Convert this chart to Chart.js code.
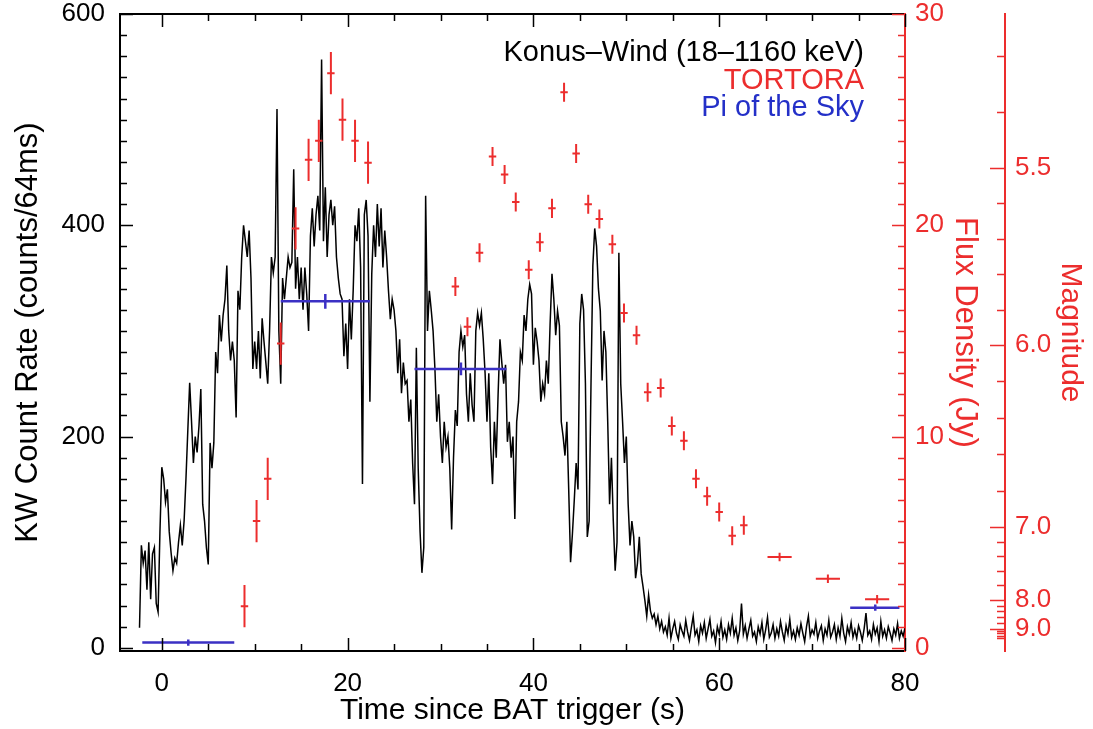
<!DOCTYPE html>
<html>
<head>
<meta charset="utf-8">
<title>Konus-Wind, TORTORA and Pi of the Sky light curves</title>
<script src="https://cdn.jsdelivr.net/npm/chart.js@4.4.1/dist/chart.umd.min.js"></script>
<style>
  html, body { margin: 0; padding: 0; background: #fff; }
  #wrap { width: 1093px; height: 729px; }
</style>
</head>
<body>
<div id="wrap"><canvas id="lightCurve" width="1093" height="729"></canvas></div>
<script>
const kwStart = -2.4;
const kwStep = 0.2;
const kwCounts = [
  19, 97, 80,
  92, 55, 100, 46, 89,
  95, 42, 34, 110, 171,
  160, 138, 150, 110, 90,
  73, 85, 80, 100, 116,
  97, 120, 160, 206, 251,
  214, 175, 200, 185, 210,
  245, 136, 120, 95, 79,
  194, 170, 194, 280, 260,
  315, 290, 315, 330, 362,
  300, 272, 290, 272, 218,
  338, 320, 370, 400, 385,
  370, 395, 350, 264, 290,
  264, 300, 255, 312, 290,
  270, 250, 300, 370, 355,
  370, 510, 300, 250, 350,
  330, 350, 370, 360, 365,
  453, 340, 370, 330, 360,
  320, 360, 335, 300, 390,
  416, 380, 410, 428, 395,
  557, 385, 436, 370, 410,
  424, 400, 418, 370, 350,
  335, 330, 276, 307, 264,
  330, 292, 338, 400, 385,
  416, 360, 155, 410, 424,
  390, 233, 354, 400, 370,
  420, 380, 416, 360, 395,
  370, 338, 311, 330, 320,
  300, 260, 292, 241, 270,
  250, 253, 214, 235, 175,
  136, 284, 170, 110, 71,
  95, 428, 300, 338, 320,
  300, 264, 214, 240, 200,
  175, 214, 190, 200, 170,
  112, 180, 225, 210, 280,
  300, 285, 296, 240, 214,
  260, 230, 214, 300, 317,
  305, 317, 292, 260, 214,
  260, 190, 155, 214, 180,
  240, 292, 270, 250, 268,
  195, 214, 180, 200, 122,
  214, 233, 280, 272, 315,
  300, 330, 344, 335, 268,
  303, 290, 272, 233, 250,
  240, 272, 250, 307, 354,
  330, 296, 319, 305, 214,
  200, 182, 214, 150, 81,
  108, 140, 175, 150, 307,
  335, 320, 250, 105, 120,
  250, 362, 397, 380, 340,
  319, 253, 300, 280, 214,
  136, 180, 120, 73, 100,
  374, 250, 214, 175, 200,
  136, 97, 120, 105, 66,
  80, 105, 70, 58, 45,
  30, 50, 35, 28, 32,
  22, 30, 18, 25, 15,
  // tail, 54.2 s onwards
  20, 12, 28, 9, 18, 25, 14, 8, 22, 16,
  11, 26, 15, 7, 19, 30, 12, 17, 6, 21,
  14, 24, 9, 18, 27, 11, 16, 5, 20, 13,
  25, 10, 17, 8, 22, 14, 28, 12, 19, 7,
  16, 42, 13, 21, 9, 18, 26, 11, 15, 6,
  20, 13, 24, 8, 17, 29, 10, 14, 22, 9,
  18, 11, 25, 15, 7, 21, 13, 27, 10, 16,
  8, 19, 12, 23, 14, 6, 20, 30, 11, 17,
  13, 24, 9, 16, 21, 7, 18, 12, 26, 10,
  15, 22, 8, 19, 11, 28, 14, 6, 20, 13,
  24, 10, 17, 9, 21, 15, 7, 18, 33, 12,
  16, 8, 22, 13, 19, 6, 25, 11, 17, 9,
  20, 14, 7, 18, 12, 23, 9, 16, 11, 19
];

// TORTORA flux density (Jy)
const tortoraTime = [8.9, 10.2, 11.4, 12.8, 14.4, 15.8, 16.9, 18.2, 19.45, 20.8, 22.2,
  31.6, 32.9, 34.2, 35.6, 36.9, 38.1, 39.5, 40.7, 42.0, 43.3,
  44.6, 45.9, 47.1, 48.5, 49.75, 51.1, 52.3, 53.7, 54.9, 56.2,
  57.5, 58.7, 60.0, 61.4, 62.65, 66.5, 71.7, 77.0];
const tortoraTimeErr = [0.4, 0.4, 0.4, 0.4, 0.4, 0.4, 0.4, 0.4, 0.4, 0.4, 0.4,
  0.4, 0.4, 0.4, 0.4, 0.4, 0.4, 0.4, 0.4, 0.4, 0.4,
  0.4, 0.4, 0.4, 0.4, 0.4, 0.4, 0.4, 0.4, 0.4, 0.4,
  0.4, 0.4, 0.4, 0.4, 0.4, 1.3, 1.3, 1.3];
const tortoraFlux = [1.97, 6.0, 8.0, 14.4, 19.85, 23.1, 24.0, 27.2, 25.0, 24.0, 22.96,
  17.1, 15.2, 18.7, 23.26, 22.4, 21.1, 17.9, 19.2, 20.8, 26.3,
  23.4, 21.0, 20.3, 19.1, 15.85, 14.8, 12.1, 12.3, 10.5, 9.8,
  8.0, 7.17, 6.43, 5.3, 5.8, 4.3, 3.27, 2.3];
const tortoraFluxErr = [1.0, 1.0, 1.0, 1.0, 1.0, 1.0, 1.0, 1.0, 1.0, 1.0, 1.0,
  0.45, 0.45, 0.45, 0.45, 0.45, 0.45, 0.45, 0.45, 0.45, 0.45,
  0.45, 0.45, 0.45, 0.45, 0.45, 0.45, 0.45, 0.45, 0.45, 0.45,
  0.45, 0.45, 0.45, 0.45, 0.45, 0.2, 0.2, 0.2];

// Pi of the Sky flux density (Jy), exposures as time bars
const piTime = [2.85, 17.6, 32.2, 76.8];
const piStart = [-2.1, 12.8, 27.2, 74.1];
const piEnd = [7.8, 22.4, 37.1, 79.4];
const piFlux = [0.25, 16.4, 13.2, 1.9];
const piFluxErr = [0.15, 0.35, 0.3, 0.15];

// axis ticks
const timeTicks = [0, 20, 40, 60, 80];
const countTicks = [0, 200, 400, 600];
const fluxTicks = [0, 10, 20, 30];
const magTicks = [5.5, 6.0, 7.0, 8.0, 9.0];
const magMinorBounds = [5.0, 5.5, 6.0, 7.0, 8.0, 9.0, 10.0];
const magZeroFlux = 3600; // Jy at magnitude 0

const RED = "#ec2d2d";
const BLUE = "#3b30c4";
const FONT = '"Liberation Sans", Arial, Helvetica, sans-serif';

const magToFlux = (m) => magZeroFlux * Math.pow(10, -0.4 * m);

const kwPoints = kwCounts.map((c, i) => ({ x: +(kwStart + i * kwStep).toFixed(2), y: c }));

// error crosses as broken line segments (null breaks the path)
const tortoraBars = [];
tortoraTime.forEach((t, i) => {
  const f = tortoraFlux[i];
  tortoraBars.push({ x: t, y: f - tortoraFluxErr[i] }, { x: t, y: f + tortoraFluxErr[i] }, { x: t, y: null });
  tortoraBars.push({ x: t - tortoraTimeErr[i], y: f }, { x: t + tortoraTimeErr[i], y: f }, { x: t, y: null });
});

const piBars = [];
piTime.forEach((t, i) => {
  const f = piFlux[i];
  piBars.push({ x: piStart[i], y: f }, { x: piEnd[i], y: f }, { x: t, y: null });
  piBars.push({ x: t, y: f - piFluxErr[i] }, { x: t, y: f + piFluxErr[i] }, { x: t, y: null });
});

// IDL style inward ticks
const idlTicks = {
  id: "idlTicks",
  afterDraw(chart) {
    const { ctx, chartArea: a, scales } = chart;
    const major = 13, minor = 7;
    ctx.save();
    ctx.lineWidth = 1.5;
    ctx.strokeStyle = "#000";
    ctx.beginPath();
    for (let v = 0; v <= 80; v += 5) {
      const px = Math.round(scales.x.getPixelForValue(v)) + 0.5;
      const len = v % 20 === 0 ? major : minor;
      ctx.moveTo(px, a.bottom); ctx.lineTo(px, a.bottom - len);
      ctx.moveTo(px, a.top); ctx.lineTo(px, a.top + len);
    }
    for (let v = 0; v <= 600; v += 20) {
      const py = Math.round(scales.y.getPixelForValue(v)) + 0.5;
      const len = v % 200 === 0 ? major : minor;
      ctx.moveTo(a.left, py); ctx.lineTo(a.left + len, py);
    }
    ctx.stroke();

    ctx.strokeStyle = RED;
    ctx.beginPath();
    for (let v = 0; v <= 30; v += 1) {
      const py = Math.round(scales.yFlux.getPixelForValue(v)) + 0.5;
      const len = v % 10 === 0 ? major : minor;
      ctx.moveTo(a.right, py); ctx.lineTo(a.right - len, py);
    }
    const mag = scales.yMag;
    const mx = mag.left;
    magTicks.forEach((m) => {
      const py = Math.round(mag.getPixelForValue(magToFlux(m))) + 0.5;
      ctx.moveTo(mx, py); ctx.lineTo(mx - 15, py);
    });
    for (let i = 0; i < magMinorBounds.length - 1; i++) {
      const f0 = magToFlux(magMinorBounds[i]);
      const f1 = magToFlux(magMinorBounds[i + 1]);
      for (let k = 1; k < 5; k++) {
        const f = f0 + (f1 - f0) * k / 5;
        if (f < mag.min || f > mag.max) continue;
        const py = Math.round(mag.getPixelForValue(f)) + 0.5;
        ctx.moveTo(mx, py); ctx.lineTo(mx - 8, py);
      }
    }
    ctx.stroke();
    ctx.restore();
  }
};

// coloured dataset names in the upper right of the plot
const cornerLabels = {
  id: "cornerLabels",
  afterDraw(chart) {
    const { ctx, chartArea: a } = chart;
    ctx.save();
    ctx.font = "29px " + FONT;
    ctx.textAlign = "right";
    ctx.textBaseline = "middle";
    chart.data.datasets.forEach((ds, i) => {
      ctx.fillStyle = ds.textColor;
      ctx.fillText(ds.label, a.right - 41, a.top + 39 + i * 27.5);
    });
    ctx.restore();
  }
};

// vertical axes: keep the label overhang from pushing the plot frame inwards
const fixWidth = (w) => (s) => {
  s.width = w;
  s.paddingTop = 0;
  s.paddingBottom = 0;
};

Chart.defaults.font.family = FONT;

const ctx = document.getElementById("lightCurve").getContext("2d");
new Chart(ctx, {
  type: "line",
  data: {
    datasets: [
      {
        label: "Konus\u2013Wind (18\u20131160 keV)",
        textColor: "#000",
        data: kwPoints,
        borderColor: "#000",
        borderWidth: 1.5,
        pointRadius: 0,
        yAxisID: "y",
        order: 3,
      },
      {
        label: "TORTORA",
        textColor: RED,
        data: tortoraBars,
        borderColor: RED,
        borderWidth: 2,
        pointRadius: 0,
        yAxisID: "yFlux",
        order: 2,
      },
      {
        label: "Pi of the Sky",
        textColor: "#2430c8",
        data: piBars,
        borderColor: BLUE,
        borderWidth: 2.5,
        pointRadius: 0,
        yAxisID: "yFlux",
        order: 1,
      },
    ],
  },
  options: {
    responsive: false,
    maintainAspectRatio: false,
    animation: false,
    devicePixelRatio: 1,
    layout: { padding: 0 },
    plugins: { legend: { display: false }, tooltip: { enabled: false } },
    scales: {
      x: {
        type: "linear",
        position: "bottom",
        min: -4.5,
        max: 80,
        afterBuildTicks: (s) => { s.ticks = timeTicks.map((v) => ({ value: v })); },
        afterFit: (s) => { s.height = 78; },
        grid: { display: false, drawTicks: false },
        border: { color: "#000", width: 2 },
        ticks: { color: "#000", font: { size: 26, lineHeight: 1 }, padding: 20, maxRotation: 0, autoSkip: false },
        title: {
          display: true,
          text: "Time since BAT trigger (s)",
          color: "#000",
          font: { size: 30, lineHeight: 1 },
          padding: { top: 0, bottom: 3 },
        },
      },
      xTop: {
        type: "linear",
        position: "top",
        min: -4.5,
        max: 80,
        afterFit: (s) => { s.height = 14; },
        grid: { display: false, drawTicks: false },
        border: { color: "#000", width: 2 },
        ticks: { display: false },
      },
      y: {
        type: "linear",
        position: "left",
        min: -3,
        max: 600,
        afterBuildTicks: (s) => { s.ticks = countTicks.map((v) => ({ value: v })); },
        afterFit: fixWidth(120),
        grid: { display: false, drawTicks: false },
        border: { color: "#000", width: 2 },
        ticks: { color: "#000", font: { size: 26, lineHeight: 1 }, padding: 15, autoSkip: false },
        title: {
          display: true,
          text: "KW Count Rate (counts/64ms)",
          color: "#000",
          font: { size: 31, lineHeight: 1 },
          padding: { top: 12.5, bottom: 0 },
        },
      },
      yFlux: {
        type: "linear",
        position: "right",
        min: -0.15,
        max: 30,
        afterBuildTicks: (s) => { s.ticks = fluxTicks.map((v) => ({ value: v })); },
        afterFit: fixWidth(100),
        grid: { display: false, drawTicks: false },
        border: { color: RED, width: 2 },
        ticks: { color: RED, font: { size: 26, lineHeight: 1 }, padding: 10, autoSkip: false },
        title: {
          display: true,
          text: "Flux Density (Jy)",
          color: RED,
          font: { size: 31, lineHeight: 1 },
          padding: { top: 24.5, bottom: 0 },
        },
      },
      yMag: {
        type: "linear",
        position: "right",
        min: -0.15,
        max: 30,
        afterBuildTicks: (s) => { s.ticks = magTicks.map((m) => ({ value: magToFlux(m) })); },
        afterFit: fixWidth(88),
        grid: { display: false, drawTicks: false },
        border: { color: RED, width: 2 },
        ticks: {
          color: RED,
          font: { size: 26, lineHeight: 1 },
          padding: 10,
          autoSkip: false,
          callback: (value, index) => magTicks[index].toFixed(1),
        },
        title: {
          display: true,
          text: "Magnitude",
          color: RED,
          font: { size: 30, lineHeight: 1 },
          padding: { top: 8, bottom: 0 },
        },
      },
    },
  },
  plugins: [idlTicks, cornerLabels],
});
</script>
</body>
</html>
